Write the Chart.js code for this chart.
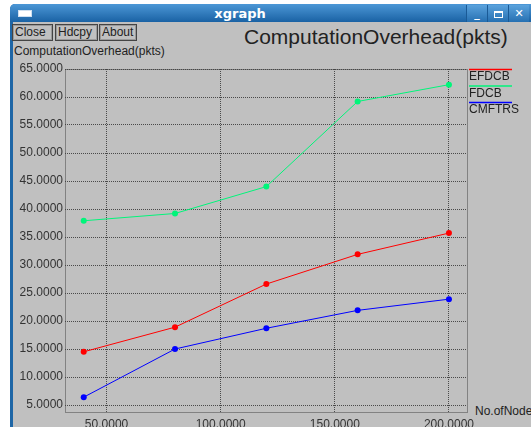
<!DOCTYPE html>
<html>
<head>
<meta charset="utf-8">
<script src="https://cdn.jsdelivr.net/npm/chart.js@4/dist/chart.umd.min.js"></script>
<style>
  body { margin: 0; width: 531px; height: 427px; background: #fff; overflow: hidden; font-family: "Liberation Sans", Arial, sans-serif; position: relative; }
  .win { position: absolute; left: 10px; top: 4px; width: 530px; height: 430px; background: #1e66a6; border-radius: 5px 5px 0 0; }
  .titlebar { position: absolute; left: 0; top: 0; right: 0; height: 18px; border-radius: 5px 5px 0 0; background: linear-gradient(#4c97d6, #1a62a4); }
  .titlebar .name { position: absolute; left: 0; width: 460px; top: 2px; text-align: center; color: #fff; font: bold 13px "DejaVu Sans", sans-serif; }
  .titlebar .icon { position: absolute; left: 8px; top: 6px; width: 12px; height: 5px; background: #fff; border: 1px solid #cfe0f0; }
  .wbtn { position: absolute; top: 1px; width: 20px; height: 17px; background: linear-gradient(#5aa2dc, #2670b2); border-left: 1px solid #1a5a96; color: #fff; font: bold 11px "DejaVu Sans", sans-serif; text-align: center; line-height: 17px; }
  .wbtn .max { position: absolute; left: 6px; top: 6px; width: 7px; height: 4px; border: 1px solid #fff; border-top-width: 2px; }
  .content { position: absolute; left: 3px; top: 18px; right: 0; bottom: 0; background: #c0c0c0; }
  .btn { position: absolute; top: 24px; height: 15px; border: 1px solid #444; box-shadow: inset 0 0 0 1px #9a9a9a; font-size: 12px; line-height: 15px; color: #222; padding: 0 2px; }
  .txt { position: absolute; color: #222; white-space: nowrap; }
  canvas { position: absolute; left: 0; top: 0; }
</style>
</head>
<body>
<div class="win">
  <div class="titlebar">
    <div class="icon"></div>
    <div class="name">xgraph</div>
    <div class="wbtn" style="left:456px">_</div>
    <div class="wbtn" style="left:477px"><div class="max"></div></div>
    <div class="wbtn" style="left:498px">&#10005;</div>
  </div>
  <div class="content"></div>
</div>
<div class="btn" style="left:12px;width:35px">Close</div>
<div class="btn" style="left:55px;width:37px">Hdcpy</div>
<div class="btn" style="left:99px;width:32px">About</div>
<div class="txt" style="left:244px;top:25px;font-size:21px">ComputationOverhead(pkts)</div>
<div class="txt" style="left:14px;top:44px;font-size:12px">ComputationOverhead(pkts)</div>
<div class="txt" style="left:475px;top:404px;font-size:12px">No.ofNode</div>
<canvas id="graphique" width="531" height="427"></canvas>
<script>
// data
const nodes = [40, 80, 120, 160, 200];
const efdcb = [14.5, 18.9, 26.6, 31.9, 35.7];
const fdcb = [37.9, 39.2, 44.0, 59.2, 62.2];
const cmftrs = [6.4, 15.0, 18.7, 21.9, 23.9];
const xTicks = [50, 100, 150, 200];
const yTicks = [5, 10, 15, 20, 25, 30, 35, 40, 45, 50, 55, 60, 65];

function points(valeurs) {
  return nodes.map((n, i) => ({ x: n, y: valeurs[i] }));
}

// dotted frame round the plot + legend on the right
const cadreEtLegende = {
  id: "cadreEtLegende",
  afterDraw(chart) {
    const ctx = chart.ctx;
    const a = chart.chartArea;
    ctx.save();
    ctx.strokeStyle = "#444";
    ctx.lineWidth = 1;
    ctx.setLineDash([1, 1]);
    ctx.strokeRect(a.left + 0.5, a.top + 0.5, a.right - a.left, a.bottom - a.top);
    ctx.setLineDash([]);
    chart.data.datasets.forEach((ds, i) => {
      const y = a.top + i * 16.5;
      ctx.strokeStyle = ds.borderColor;
      ctx.lineWidth = 1.5;
      ctx.beginPath();
      ctx.moveTo(a.right + 2, y + 0.5);
      ctx.lineTo(a.right + 45, y + 0.5);
      ctx.stroke();
      ctx.fillStyle = "#222";
      ctx.font = "12px 'Liberation Sans', Arial, sans-serif";
      ctx.textBaseline = "top";
      ctx.fillText(ds.label, a.right + 2, y + 2);
    });
    ctx.restore();
  }
};

const grille = { color: "#4a4a4a", lineWidth: 1, drawTicks: false };

new Chart(document.querySelector("#graphique"), {
  type: "line",
  data: {
    datasets: [
      { label: "EFDCB", data: points(efdcb), borderColor: "#ff0000", backgroundColor: "#ff0000" },
      { label: "FDCB", data: points(fdcb), borderColor: "#00f57a", backgroundColor: "#00f57a" },
      { label: "CMFTRS", data: points(cmftrs), borderColor: "#0000ff", backgroundColor: "#0000ff" }
    ]
  },
  options: {
    responsive: false,
    animation: false,
    layout: { padding: { left: 0, top: 69, right: 64, bottom: 0 } },
    elements: {
      line: { borderWidth: 1, tension: 0 },
      point: { radius: 3, borderWidth: 0 }
    },
    plugins: { legend: { display: false }, tooltip: { enabled: false } },
    scales: {
      x: {
        type: "linear",
        min: 31.8,
        max: 207.9,
        grid: grille,
        border: { display: false, dash: [1, 1] },
        afterBuildTicks: axis => { axis.ticks = xTicks.map(v => ({ value: v })); },
        afterFit: axis => { axis.height = 15; },
        ticks: {
          color: "#333",
          padding: 5,
          maxRotation: 0,
          font: { family: "'Liberation Sans', Arial, sans-serif", size: 12 },
          callback: v => v.toFixed(4)
        }
      },
      y: {
        min: 3.75,
        max: 65,
        grid: grille,
        border: { display: false, dash: [1, 1] },
        afterBuildTicks: axis => { axis.ticks = yTicks.map(v => ({ value: v })); },
        afterFit: axis => { axis.width = 65; },
        ticks: {
          color: "#333",
          padding: 2,
          font: { family: "'Liberation Sans', Arial, sans-serif", size: 12 },
          callback: v => v.toFixed(4)
        }
      }
    }
  },
  plugins: [cadreEtLegende]
});
</script>
</body>
</html>
